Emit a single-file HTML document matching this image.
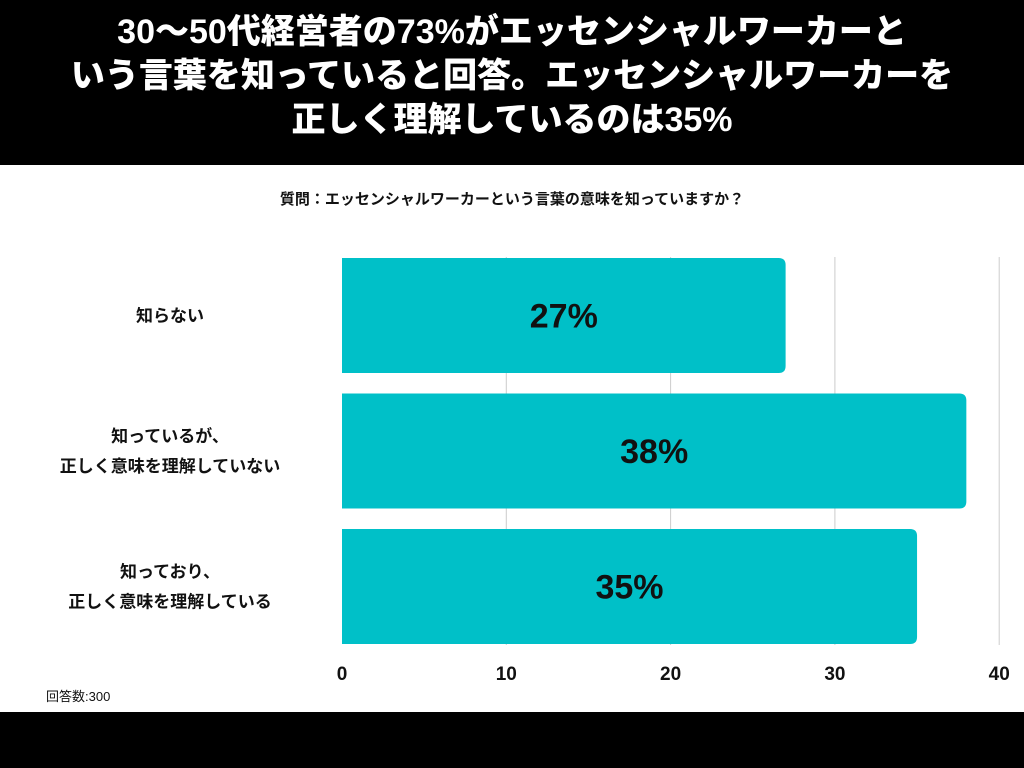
<!DOCTYPE html>
<html><head><meta charset="utf-8"><style>
body{margin:0;width:1024px;height:768px;background:#fff;overflow:hidden;font-family:"Liberation Sans","Noto Sans CJK JP",sans-serif;}
#hdr{position:absolute;left:0;top:0;width:1024px;height:165px;background:#000;color:#fff;text-align:center;font-weight:900;font-size:34px;line-height:44px;padding-top:10px;box-sizing:border-box;}
#ftr{position:absolute;left:0;top:712px;width:1024px;height:56px;background:#000;}
</style></head><body>
<div id="hdr">30〜50代経営者の73%がエッセンシャルワーカーと<br>いう言葉を知っていると回答。エッセンシャルワーカーを<br>正しく理解しているのは35%</div>
<svg id="chart" width="1024" height="768" style="position:absolute;left:0;top:0">
<text x="512" y="204" text-anchor="middle" font-size="15" font-weight="bold" fill="#111">質問：エッセンシャルワーカーという言葉の意味を知っていますか？</text>
<g id="grid"></g><g id="bars"></g><g id="labels"></g>
<text x="46" y="701" font-size="13" fill="#111">回答数:300</text>
</svg>
<div id="ftr"></div>
<script>
const categories=[["知らない"],["知っているが、","正しく意味を理解していない"],["知っており、","正しく意味を理解している"]];
const values=[27,38,35];
const ticks=[0,10,20,30,40];
const x0=342,pxPer=16.43,top0=258,bandH=136,barH=115;
const xs=v=>x0+v*pxPer;
const ns="http://www.w3.org/2000/svg";
const mk=(t,a)=>{const e=document.createElementNS(ns,t);for(const k in a)e.setAttribute(k,a[k]);return e;};
const grid=document.getElementById('grid'),bars=document.getElementById('bars'),labels=document.getElementById('labels');
ticks.forEach(t=>{
 if(t>0){const l=mk('line',{x1:xs(t),x2:xs(t),y1:257,y2:645,stroke:'#ccc','stroke-width':1});
 
 grid.appendChild(l);}
 const tx=mk('text',{x:xs(t),y:680,'text-anchor':'middle','font-size':19,'font-weight':'bold',fill:'#111'});
 tx.textContent=t;
 
 labels.appendChild(tx);
});
values.forEach((v,i)=>{
 const y=top0+i*bandH*1.0-(i>0?i*0.5:0);
 const w=xs(v)-x0,r=7;
 const p=mk('path',{d:`M${x0},${y}H${x0+w-r}Q${x0+w},${y} ${x0+w},${y+r}V${y+barH-r}Q${x0+w},${y+barH} ${x0+w-r},${y+barH}H${x0}Z`,fill:'#00C0C8'});
 
 bars.appendChild(p);
 const vt=mk('text',{x:x0+w/2,y:y+barH/2+12,'text-anchor':'middle','font-size':34,'font-weight':'bold',fill:'#111'});
 vt.textContent=v+'%';
 
 labels.appendChild(vt);
 const lines=categories[i];
 lines.forEach((s,j)=>{
  const ct=mk('text',{x:170,y:y+barH/2+6+(j-(lines.length-1)/2)*30,'text-anchor':'middle','font-size':17,'font-weight':'bold',fill:'#111'});
  ct.textContent=s;
  
  labels.appendChild(ct);
 });
});
</script>
</body></html>
